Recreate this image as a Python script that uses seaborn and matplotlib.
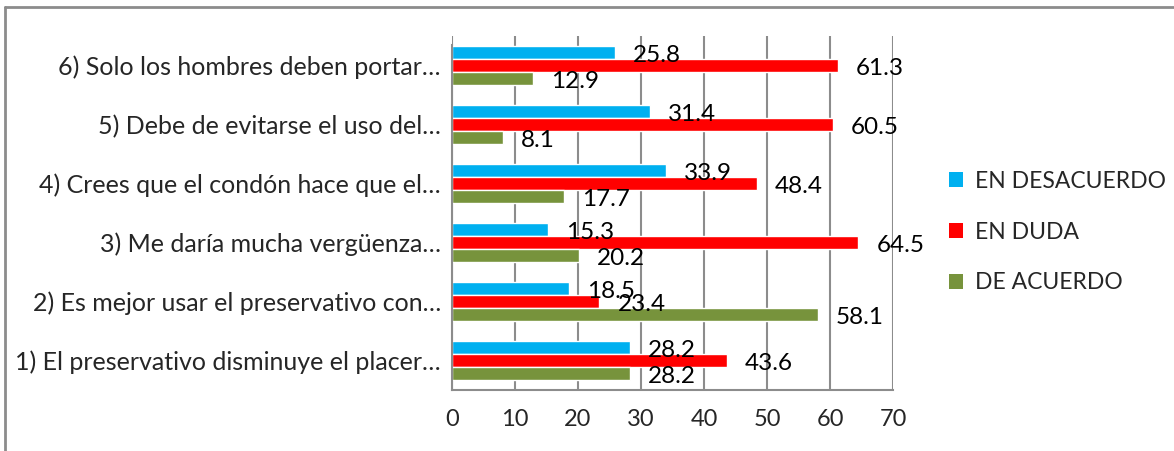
import numpy as np
import pandas as pd
import seaborn as sns
import matplotlib.pyplot as plt
from matplotlib.patches import Patch
from matplotlib.lines import Line2D

sns.set_style('white')
plt.rcParams['font.family'] = ['Lato', 'DejaVu Sans']

items = ['6) Solo los hombres deben portar…',
         '5) Debe de evitarse el uso del…',
         '4) Crees que el condón hace que el…',
         '3) Me daría mucha vergüenza…',
         '2) Es mejor usar el preservativo con…',
         '1) El preservativo disminuye el placer…']
series = ['EN DESACUERDO', 'EN DUDA', 'DE ACUERDO']
desacuerdo = [25.8, 31.4, 33.9, 15.3, 18.5, 28.2]
duda = [61.3, 60.5, 48.4, 64.5, 23.4, 43.6]
acuerdo = [12.9, 8.1, 17.7, 20.2, 58.1, 28.2]
colors = ['#00B0F0', '#FF0000', '#77933C']

df = pd.DataFrame({
    'item': items * 3,
    'serie': np.repeat(series, len(items)),
    'valor': desacuerdo + duda + acuerdo,
})

fig = plt.figure(figsize=(11.74, 4.51), dpi=100)
ax = fig.add_axes([452 / 1174, 1 - 390 / 451, 441 / 1174, (390 - 36) / 451])

sns.barplot(data=df, y='item', x='valor', hue='serie', order=items,
            hue_order=series, palette=colors, orient='h', width=0.66,
            gap=0, saturation=1, legend=False, ax=ax)

for cont in ax.containers:
    labs = ax.bar_label(cont, fmt='%.1f', padding=13, fontsize=17.5, color='black')
    for t in labs:
        t.set_y(-2)

ax.set_xlim(0, 70)
ax.set_ylim(5.5, -0.5)
ax.set_xticks(range(0, 71, 10))
ax.set_xlabel('')
ax.set_ylabel('')
ax.grid(axis='x', color='#8c8c8c', linewidth=1.5)
ax.set_axisbelow(True)

for s in ['top', 'right']:
    ax.spines[s].set_visible(False)
for s in ['left', 'bottom']:
    ax.spines[s].set_color('#8c8c8c')
    ax.spines[s].set_linewidth(1.5)
ax.spines['left'].set_bounds(5.5, -0.35)

ax.tick_params(axis='x', length=6, width=1.5, color='#8c8c8c', labelsize=17, pad=8)
ax.tick_params(axis='y', which='major', length=0, labelsize=18, pad=8)
ax.set_yticks([-0.35, 0.5, 1.5, 2.5, 3.5, 4.5, 5.5], minor=True)
ax.tick_params(axis='y', which='minor', length=6, width=1.5, color='#8c8c8c')

handles = [Patch(facecolor=c, edgecolor='none') for c in colors]
fig.legend(handles, series, loc='center left', bbox_to_anchor=(949 / 1174, 1 - 232 / 451),
           frameon=False, fontsize=16.5, handlelength=0.62, handleheight=0.62,
           handletextpad=0.5, labelspacing=1.3, borderpad=0, borderaxespad=0)

# marco del gráfico
fig.add_artist(Line2D([5 / 1174, 5 / 1174], [0, 1 - 7 / 451], transform=fig.transFigure,
                      color='#8c8c8c', linewidth=2))
fig.add_artist(Line2D([5 / 1174, 1], [1 - 7 / 451, 1 - 7 / 451], transform=fig.transFigure,
                      color='#8c8c8c', linewidth=2))

fig.savefig('out.png', dpi=100)
